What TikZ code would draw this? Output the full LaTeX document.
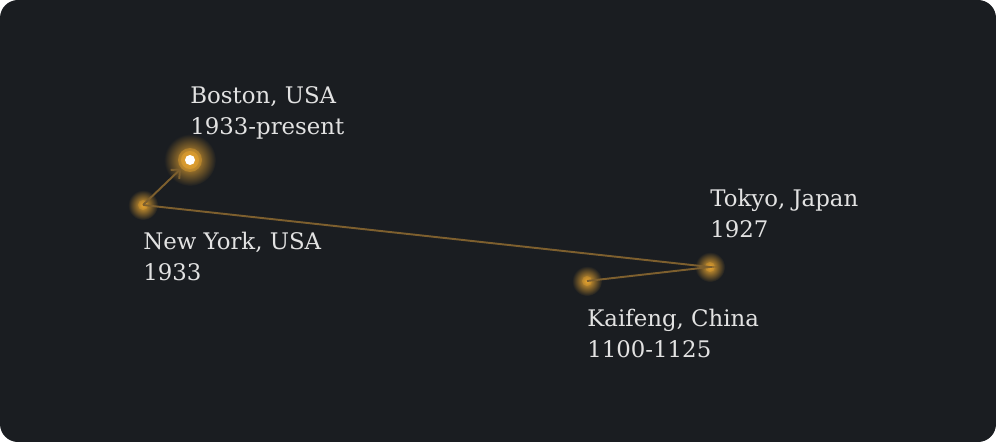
\documentclass[tikz,border=0pt]{standalone}
\usepackage{fontspec}
\setmainfont{DejaVu Serif}
\usetikzlibrary{arrows.meta}
\definecolor{bg}{HTML}{1A1D21}
\definecolor{glow}{HTML}{E8A530}
\definecolor{route}{HTML}{7D5F2E}
\definecolor{labeltext}{HTML}{E2E2E2}
\tikzstyle{city} = [coordinate]
\tikzstyle{place} = [anchor=north west, inner sep=0pt, align=left, text=labeltext, font=\fontsize{13}{17.6}\selectfont]

\begin{document}
\begin{tikzpicture}[x=0.02cm, y=-0.02cm]
    \useasboundingbox (0,0) rectangle (996,442);
    \fill [bg, rounded corners=0.36cm] (0,0) rectangle (996,442);

    \node [city, name=boston] at (190,160) {};
    \node [city, name=newyork] at (143,205) {};
    \node [city, name=tokyo] at (710,267) {};
    \node [city, name=kaifeng] at (587,281) {};

    % glow round each stop
    \foreach \c in {newyork, tokyo, kaifeng} {
      \shade [inner color=glow, outer color=bg] (\c) circle (15);
      \fill [glow, opacity=0.3] (\c) circle (5);
    }
    \shade [inner color=glow, outer color=bg] (boston) circle (26);
    \fill [glow, opacity=0.4] (boston) circle (12);
    \fill [glow, opacity=0.5] (boston) circle (9);

    \draw [route, line width=1.1pt] (kaifeng) -- (tokyo) -- (newyork);
    \draw [route, line width=1.1pt, -{Straight Barb[length=4pt, width=7pt]}, shorten >=7] (newyork) -- (boston);
    \fill [white] (boston) circle (5);

    \node [place, name=bostonlabel] at (190,86) {Boston, USA\\1933-present};
    \node [place, name=newyorklabel] at (143,232) {New York, USA\\1933};
    \node [place, name=tokyolabel] at (710,189) {Tokyo, Japan\\1927};
    \node [place, name=kaifenglabel] at (587,309) {Kaifeng, China\\1100-1125};
  \end{tikzpicture}
\end{document}
